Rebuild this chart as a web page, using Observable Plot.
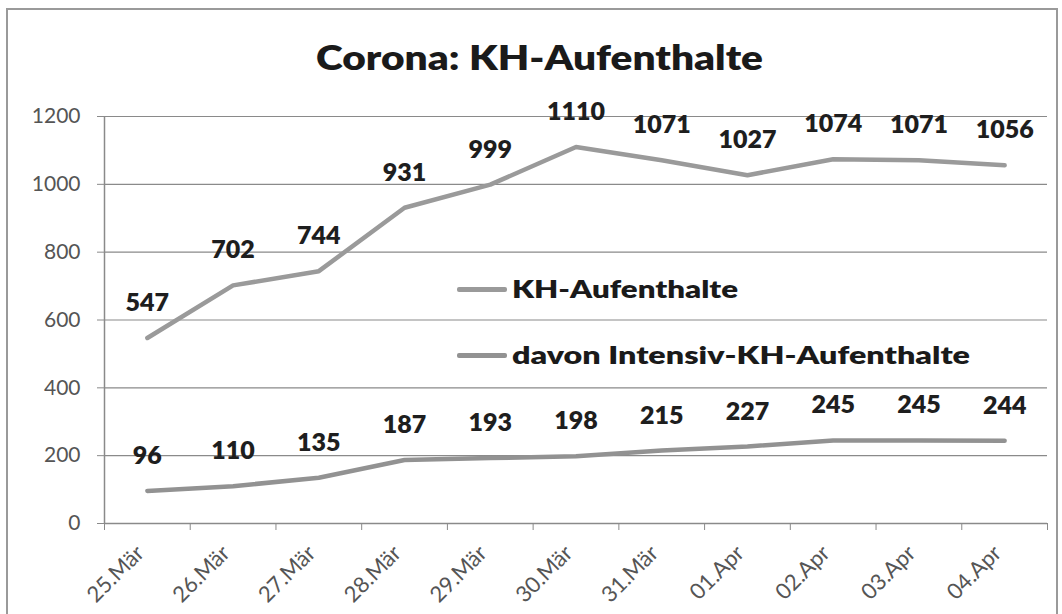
<!DOCTYPE html>
<html>
<head>
<meta charset="utf-8">
<script src="https://cdn.jsdelivr.net/npm/d3@7"></script>
<script src="https://cdn.jsdelivr.net/npm/@observablehq/plot@0.6"></script>
<style>
  html, body { margin: 0; padding: 0; background: #fff; }
  #wrap { position: relative; width: 1062px; height: 614px; overflow: hidden; font-family: Lato, "Open Sans", sans-serif; }
  #border { position: absolute; left: 6px; top: 8px; width: 1048px; height: 640px; border: 2px solid #9a9a9a; }
  #title { position: absolute; top: 40px; left: 0; font-size: 34px; line-height: 34px; font-weight: 800; color: #1a1a1a; white-space: nowrap; transform-origin: left center; }
  #chart { position: absolute; left: 0; top: 90px; }
  .lg-sw { position: absolute; left: 457px; width: 50px; height: 5px; background: #9a9a9a; border-radius: 2px; }
  .lg-tx { position: absolute; left: 512px; font-size: 24px; line-height: 24px; font-weight: 800; color: #1a1a1a; white-space: nowrap; transform-origin: left center; }
</style>
</head>
<body>
<div id="wrap">
  <div id="border"></div>
  <div id="title"></div>
  <div id="chart"></div>
  <div class="lg-sw" style="top:287px"></div>
  <div class="lg-tx" id="lg1" style="top:277px"></div>
  <div class="lg-sw" style="top:353px; background:#929292"></div>
  <div class="lg-tx" id="lg2" style="top:343px"></div>
</div>
<script>
const titleText = "Corona: KH-Aufenthalte";
const dates = ["25.Mär","26.Mär","27.Mär","28.Mär","29.Mär","30.Mär","31.Mär","01.Apr","02.Apr","03.Apr","04.Apr"];
const seriesNames = ["KH-Aufenthalte", "davon Intensiv-KH-Aufenthalte"];
const khAufenthalte = [547, 702, 744, 931, 999, 1110, 1071, 1027, 1074, 1071, 1056];
const intensiv = [96, 110, 135, 187, 193, 198, 215, 227, 245, 245, 244];
const yTicks = [0, 200, 400, 600, 800, 1000, 1200];

const idx = dates.map((d, i) => i);
const boundaries = [...idx.map(i => i - 0.5), idx.length - 0.5];
const rows = [
  ...khAufenthalte.map((v, i) => ({i, value: v, series: seriesNames[0]})),
  ...intensiv.map((v, i) => ({i, value: v, series: seriesNames[1]}))
];

const chart = Plot.plot({
  width: 1062,
  height: 524,
  marginLeft: 104,
  marginRight: 15,
  marginTop: 26,
  marginBottom: 91,
  style: {fontFamily: "Lato, 'Open Sans', sans-serif", background: "transparent", overflow: "visible"},
  x: {type: "linear", domain: [-0.5, idx.length - 0.5]},
  y: {domain: [0, 1200]},
  color: {domain: seriesNames, range: ["#9a9a9a", "#929292"]},
  marks: [
    Plot.gridY(yTicks.filter(t => t > 0), {stroke: "#8a8a8a", strokeOpacity: 1, strokeWidth: 1.2}),
    Plot.ruleY([0], {stroke: "#8a8a8a", strokeWidth: 1.5}),
    Plot.ruleX([-0.5], {stroke: "#8a8a8a", strokeWidth: 1.5}),
    Plot.axisY({ticks: yTicks, tickSize: 7, tickPadding: 17, tickFormat: d => String(d), stroke: "#8a8a8a", fill: "#555", fontSize: 21, label: null}),
    Plot.axisX({ticks: boundaries, tickSize: 7, tickFormat: () => "", stroke: "#8a8a8a", label: null}),
    Plot.axisX({ticks: idx, tickSize: 0, tickPadding: 26, tickRotate: -45, tickFormat: i => dates[i], fill: "#555", fontSize: 22, dx: -7, label: null}),
    Plot.line(rows, {x: "i", y: "value", z: "series", stroke: "series", strokeWidth: 4.5, strokeLinejoin: "round", strokeLinecap: "round"}),
    Plot.text(rows, {x: "i", y: "value", text: d => String(d.value), dy: -35, fontSize: 25, fontWeight: 800, fill: "#1e1e1e"})
  ]
});
document.getElementById("chart").appendChild(chart);

function fit(el, text, targetLeft, targetWidth) {
  el.textContent = text;
  const w = el.getBoundingClientRect().width;
  const s = targetWidth / w;
  el.style.left = targetLeft + "px";
  el.style.transform = `scaleX(${s})`;
}
fit(document.getElementById("title"), titleText, 316, 447);
fit(document.getElementById("lg1"), seriesNames[0], 512, 226);
fit(document.getElementById("lg2"), seriesNames[1], 512, 458);
</script>
</body>
</html>
